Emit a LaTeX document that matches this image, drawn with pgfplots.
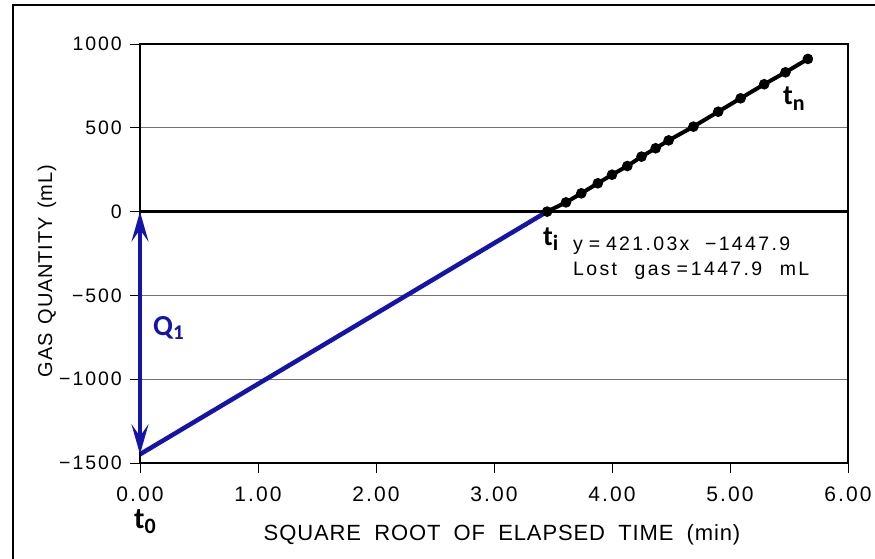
\documentclass[border=0pt]{standalone}
\usepackage{pgfplots}
\pgfplotsset{compat=1.18}
\usetikzlibrary{arrows.meta}
\usepackage{fontspec}
\setmainfont{Liberation Sans}
\newfontfamily\numfont{Liberation Sans}[LetterSpace=10]
\newfontfamily\annfont{Liberation Sans}[LetterSpace=12]
\newfontfamily\lblfont{Liberation Sans}[LetterSpace=4]
\newfontfamily\calfont{Carlito}
\definecolor{qblue}{RGB}{20,20,170}
\newcommand{\tsub}[1]{t\raisebox{-5pt}{\fontsize{22}{22}\selectfont #1}}
\begin{document}
\begin{tikzpicture}[x=1pt,y=1pt]
\useasboundingbox (0,0) rectangle (875,558);
\begin{axis}[at={(140pt,95pt)}, anchor=south west, scale only axis,
  width=708pt, height=419pt,
  xmin=0, xmax=6, ymin=-1500, ymax=1000,
  xtick={0,1,2,3,4,5,6},
  xticklabels={0.00,1.00,2.00,3.00,4.00,5.00,6.00},
  ytick={-1500,-1000,-500,0,500,1000},
  yticklabels={−1500,−1000,−500,0,500,1000},
  tick align=outside, tick pos=left, major tick length=10pt,
  every tick/.style={black, line width=1pt},
  ymajorgrids, grid style={black!55, line width=0.8pt},
  axis line style={line width=1.6pt, black},
  xticklabel style={font=\fontsize{21}{22}\numfont, inner sep=0pt, anchor=north, yshift=-14pt},
  yticklabel style={font=\fontsize{19.5}{22}\numfont, inner sep=0pt, anchor=east, xshift=-8pt},
  clip=false]
\addplot[qblue, line width=4.5pt] coordinates {(0,-1448) (3.45,0)};
\draw[line width=3.5pt] (axis cs:0,0) -- (axis cs:6,0);
\draw[line width=2.5pt] (axis cs:0,-1500) -- (axis cs:0,1000);
\addplot[black, line width=4pt, mark=*, mark size=4.8pt, mark options={fill=black, line width=1pt}] coordinates {
(3.45,0) (3.61,55) (3.74,109) (3.88,169) (4.00,220) (4.13,272) (4.25,328) (4.37,378)
(4.48,425) (4.69,507) (4.90,596) (5.09,676) (5.29,760) (5.47,831) (5.66,911)};
\draw[qblue, line width=3.8pt, {Stealth[length=30pt,width=17pt,inset=12pt]}-{Stealth[length=30pt,width=17pt,inset=12pt]}] (axis cs:0,-1448) -- (axis cs:0,0);
\end{axis}
\draw[line width=2.5pt, line join=miter] (13,-10) -- (13,553) -- (890,553);
\node[anchor=base west, inner sep=0, font=\fontsize{29}{30}\calfont\bfseries, text=qblue] at (153,223) {Q\raisebox{-4pt}{\fontsize{21}{21}\selectfont 1}};
\node[anchor=base west, inner sep=0, font=\fontsize{30}{30}\calfont\bfseries] at (134,30) {\tsub{0}};
\node[anchor=base west, inner sep=0, font=\fontsize{28}{30}\calfont\bfseries] at (543,313) {\tsub{i}};
\node[anchor=base west, inner sep=0, font=\fontsize{28}{30}\calfont\bfseries] at (783,453) {\tsub{n}};
\node[anchor=base west, inner sep=0, font=\fontsize{19.5}{20}\annfont] at (573,308) {y\hspace{0.3em}=\hspace{0.3em}421.03x\hspace{0.8em}−1447.9};
\node[anchor=base west, inner sep=0, font=\fontsize{19.5}{20}\annfont] at (573,283) {Lost\hspace{0.9em}gas\hspace{0.3em}=\hspace{0.15em}1447.9\hspace{0.9em}mL};
\node[anchor=base, inner sep=0, font=\fontsize{22}{24}\lblfont] at (502,18) {SQUARE\hspace{0.6em}ROOT\hspace{0.6em}OF\hspace{0.6em}ELAPSED\hspace{0.6em}TIME\hspace{0.6em}(min)};
\node[rotate=90, anchor=base, inner sep=0, font=\fontsize{20}{24}\lblfont] at (52,287) {GAS\hspace{0.45em}QUANTITY\hspace{0.45em}(mL)};
\end{tikzpicture}
\end{document}
